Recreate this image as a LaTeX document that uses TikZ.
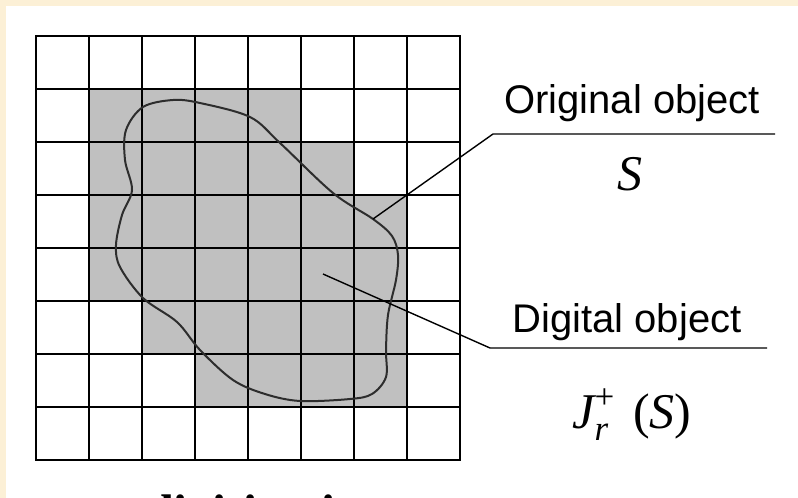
\documentclass[tikz,border=0pt]{standalone}
\usepackage{amsmath}
\usepackage{fontspec}
\setmainfont{Liberation Serif}
\newfontfamily\labelsans{Liberation Sans}
\definecolor{pagecream}{RGB}{252,240,214}
\definecolor{cellgray}{RGB}{192,192,192}
\definecolor{curvegray}{RGB}{45,45,45}

\begin{document}
\begin{tikzpicture}[x=0.5pt, y=-0.5pt, line width=1pt,
  caption/.style={font=\labelsans\fontsize{20}{24}\selectfont, anchor=base, inner sep=0pt},
  symbol/.style={font=\fontsize{25}{30}\selectfont, anchor=base, inner sep=0pt},
  leader/.style={line width=0.7pt}]
  \useasboundingbox (0,0) rectangle (798,498);
  \fill[pagecream] (0,0) rectangle (798,498);
  \fill[white] (6,6) rectangle (798,498);
  % shaded cells, row by row
  \foreach \row/\from/\to in {1/1/4, 2/1/5, 3/1/6, 4/1/6, 5/2/6, 6/3/6}
    \fill[cellgray] (36+53*\from,36+53*\row) rectangle (89+53*\to,89+53*\row);
  % the 8x8 grid
  \foreach \k in {0,...,8} {
    \draw[line cap=rect] (36+53*\k,36) -- (36+53*\k,460);
    \draw[line cap=rect] (36,36+53*\k) -- (460,36+53*\k);
  }
  % outline of the original object
  \draw[curvegray] plot[smooth cycle, tension=0.55] coordinates {
    (143,107) (173,100) (200,103) (250,117) (280,143) (333,193) (373,219)
    (392,236) (398,255) (396,280) (388,315) (386,350) (386,377) (372,394)
    (350,399) (300,401) (265,394) (233,380) (200,350) (177,322) (143,298)
    (120,267) (116,245) (122,215) (132,190) (125,160) (126,130)};
  % labels
  \node[caption] (origtext) at (632,113) {Original object};
  \node[symbol] (origsym) at (630,190) {\itshape S};
  \node[caption] (digtext) at (627,332) {Digital object};
  \node[symbol] (digsym) at (632,428) {$\text{\itshape J}^{\text{+}}_{\text{\itshape r}}$\hspace{0.36em}(\textit{S})};
  \node[anchor=base west, inner sep=0pt, font=\bfseries\fontsize{25}{30}\selectfont] (bottomtext) at (145,529) {digitization};
  % leaders
  \coordinate (origtip) at (373,219);
  \coordinate (origknee) at (493,134);
  \coordinate (origend) at (775,134);
  \coordinate (digtip) at (323,274);
  \coordinate (digknee) at (490,348);
  \coordinate (digend) at (767,348);
  \draw[leader] (origtip) -- (origknee) -- (origend);
  \draw[leader] (digtip) -- (digknee) -- (digend);
\end{tikzpicture}
\end{document}
